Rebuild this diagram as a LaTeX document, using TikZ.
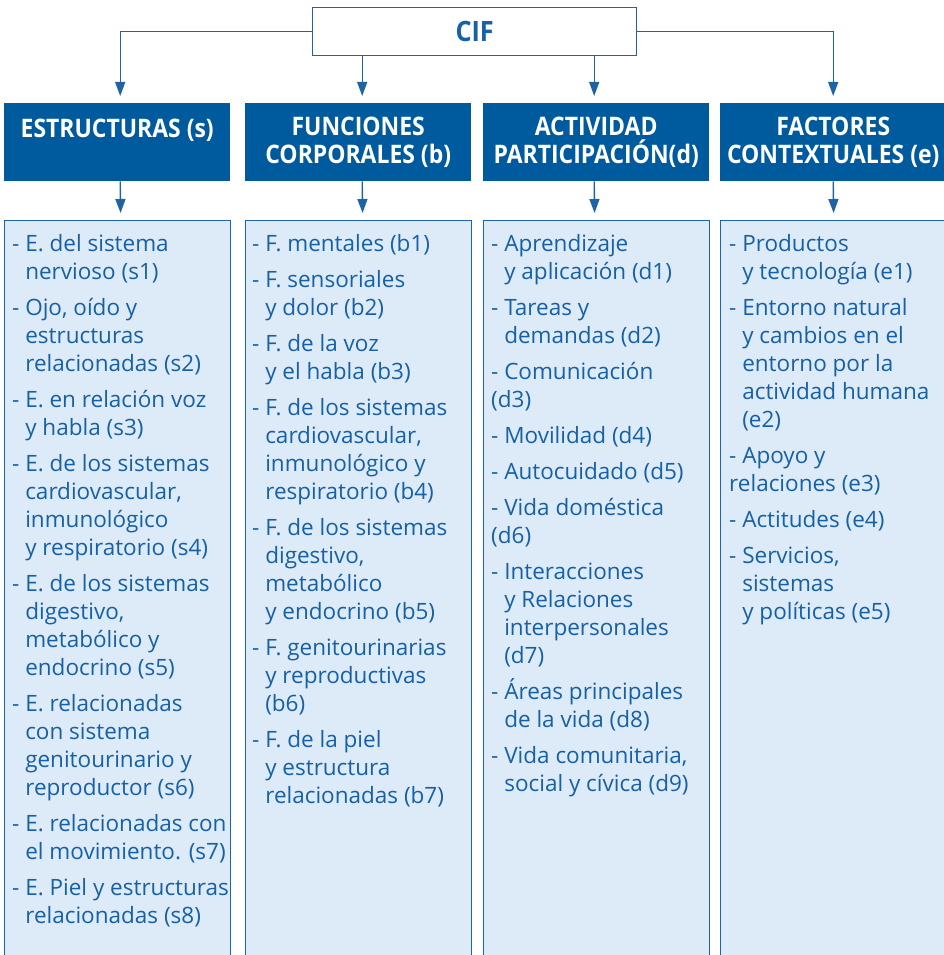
\documentclass[tikz,border=0pt]{standalone}
\usepackage{fontspec}
\setmainfont{Open Sans}
\newfontfamily\headfont[FakeStretch=0.9]{Open Sans}
\usetikzlibrary{positioning,arrows.meta}

\definecolor{cifdark}{RGB}{0,90,158}
\definecolor{cifline}{RGB}{30,100,165}
\definecolor{ciflight}{RGB}{221,235,248}
\definecolor{ciftext}{RGB}{22,96,165}
\newcommand{\ind}{\hphantom{- }}

\begin{document}
\begin{tikzpicture}[x=1pt, y=-1pt,
    head/.style={fill=cifdark, text=white, minimum width=226pt, minimum height=78pt,
      inner sep=0pt, anchor=north west, align=center,
      font=\headfont\bfseries\fontsize{25.5}{28}\selectfont},
    listbox/.style={fill=ciflight, draw=cifline, line width=1.4pt, minimum width=226pt,
      minimum height=770pt, inner sep=0pt, anchor=north west},
    items/.style={anchor=north west, inner sep=0pt, align=left, text=ciftext,
      font=\fontsize{22.5}{28}\selectfont},
    link/.style={draw=cifline, line width=1.4pt, -{Triangle[length=14pt,width=10pt]},
      shorten >=7pt}]
    \useasboundingbox (0,0) rectangle (944,955);

    \node[draw=cifline, line width=1.4pt, fill=white, minimum width=324pt, minimum height=48pt,
      anchor=north west, text=ciftext, font=\headfont\bfseries\fontsize{28}{28}\selectfont]
      (cif) at (312,7) {CIF};

    \node[head] (hs) at (4,103) {ESTRUCTURAS (s)\\\mbox{}};
    \node[head] (hb) at (245,103) {FUNCIONES\\CORPORALES (b)};
    \node[head] (hd) at (483,103) {ACTIVIDAD\\PARTICIPACIÓN(d)};
    \node[head] (he) at (720,103) {FACTORES\\CONTEXTUALES (e)};

    \node[listbox] (cs) at (4,220) {};
    \node[listbox] (cb) at (245,220) {};
    \node[listbox] (cd) at (483,220) {};
    \node[listbox] (ce) at (720,220) {};

    \node[items] (ts) at ([xshift=8pt,yshift=-14pt]cs.north west)
      {- E. del sistema\\ \ind nervioso (s1)\\[8pt]
       - Ojo, oído y\\ \ind estructuras\\ \ind relacionadas (s2)\\[8pt]
       - E. en relación voz\\ \ind y habla (s3)\\[8pt]
       - E. de los sistemas\\ \ind cardiovascular,\\ \ind inmunológico\\ \ind y respiratorio (s4)\\[8pt]
       - E. de los sistemas\\ \ind digestivo,\\ \ind metabólico y\\ \ind endocrino (s5)\\[8pt]
       - E. relacionadas\\ \ind con sistema\\ \ind genitourinario y\\ \ind reproductor (s6)\\[8pt]
       - E. relacionadas con\\ \ind el movimiento. (s7)\\[8pt]
       - E. Piel y estructuras\\ \ind relacionadas (s8)};
    \node[items] (tb) at ([xshift=7pt,yshift=-14pt]cb.north west)
      {- F. mentales (b1)\\[8pt]
       - F. sensoriales\\ \ind y dolor (b2)\\[8pt]
       - F. de la voz\\ \ind y el habla (b3)\\[8pt]
       - F. de los sistemas\\ \ind cardiovascular,\\ \ind inmunológico y\\ \ind respiratorio (b4)\\[8pt]
       - F. de los sistemas\\ \ind digestivo,\\ \ind metabólico\\ \ind y endocrino (b5)\\[8pt]
       - F. genitourinarias\\ \ind y reproductivas\\ \ind (b6)\\[8pt]
       - F. de la piel\\ \ind y estructura\\ \ind relacionadas (b7)};
    \node[items] (td) at ([xshift=8pt,yshift=-14pt]cd.north west)
      {- Aprendizaje\\ \ind y aplicación (d1)\\[8pt]
       - Tareas y\\ \ind demandas (d2)\\[8pt]
       - Comunicación\\ (d3)\\[8pt]
       - Movilidad (d4)\\[8pt]
       - Autocuidado (d5)\\[8pt]
       - Vida doméstica\\ (d6)\\[8pt]
       - Interacciones\\ \ind y Relaciones\\ \ind interpersonales\\ \ind (d7)\\[8pt]
       - Áreas principales\\ \ind de la vida (d8)\\[8pt]
       - Vida comunitaria,\\ \ind social y cívica (d9)};
    \node[items] (te) at ([xshift=9pt,yshift=-14pt]ce.north west)
      {- Productos\\ \ind y tecnología (e1)\\[8pt]
       - Entorno natural\\ \ind y cambios en el\\ \ind entorno por la\\ \ind actividad humana\\ \ind (e2)\\[8pt]
       - Apoyo y\\ relaciones (e3)\\[8pt]
       - Actitudes (e4)\\[8pt]
       - Servicios,\\ \ind sistemas\\ \ind y políticas (e5)};

    % CIF to the four groups
    \draw[link] (cif.west) -| ([xshift=3pt]hs.north);
    \draw[link] (cif.east) -| (he.north);
    \draw[link] ([xshift=4pt]hb.north |- cif.south) -- ([xshift=4pt]hb.north);
    \draw[link] ([xshift=-2pt]hd.north |- cif.south) -- ([xshift=-2pt]hd.north);

    % groups to their lists
    \draw[link] ([xshift=3pt]hs.south) -- ([xshift=3pt]cs.north);
    \draw[link] ([xshift=4pt]hb.south) -- ([xshift=4pt]cb.north);
    \draw[link] ([xshift=-2pt]hd.south) -- ([xshift=-2pt]cd.north);
    \draw[link] (he.south) -- (ce.north);
  \end{tikzpicture}
\end{document}
